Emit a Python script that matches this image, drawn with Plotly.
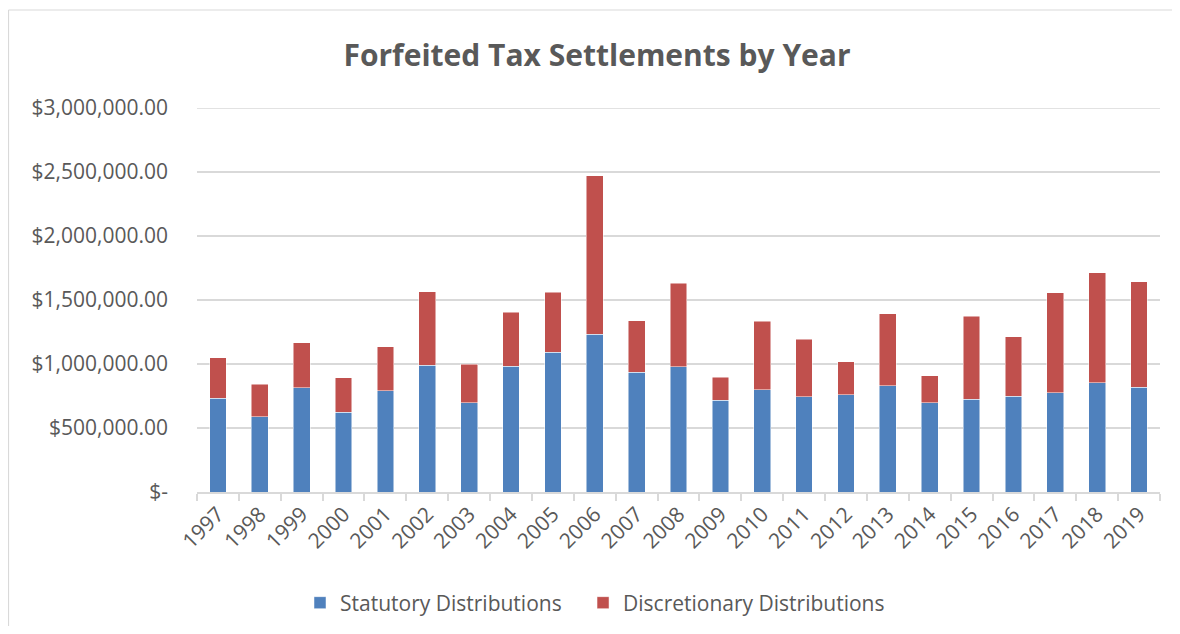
import plotly.graph_objects as go

years = [str(y) for y in range(1997, 2020)]
statutory = [734000, 589000, 816000, 625000, 792000, 990000, 698000, 984000, 1091000, 1232000,
             937000, 977000, 716000, 800000, 745000, 761000, 831000, 698000, 724000, 750000,
             777000, 855000, 818000]
totals = [1050000, 841000, 1167000, 894000, 1133000, 1566000, 1000000, 1404000, 1560000, 2469000,
          1339000, 1630000, 896000, 1333000, 1195000, 1016000, 1391000, 909000, 1372000, 1214000,
          1558000, 1714000, 1641000]
discretionary = [t - s for t, s in zip(totals, statutory)]

series_names = ["Statutory Distributions", "Discretionary Distributions"]

y_ticks = [0, 500000, 1000000, 1500000, 2000000, 2500000, 3000000]
y_labels = ["$-", "$500,000.00", "$1,000,000.00", "$1,500,000.00", "$2,000,000.00",
            "$2,500,000.00", "$3,000,000.00"]

FONT = "Open Sans"
GRAY = "#595959"
GRID = "#D9D9D9"

W, H = 1164, 618
L, T, R, B = 189, 100, 12, 134
PW, PH = W - L - R, H - T - B

fig = go.Figure()
fig.add_trace(go.Bar(x=years, y=statutory, name=series_names[0] + "\u00a0\u00a0\u00a0",
                     marker=dict(color="#4F81BD", line=dict(color="rgba(255,255,255,0.7)", width=0.7))))
fig.add_trace(go.Bar(x=years, y=discretionary, name=series_names[1],
                     marker=dict(color="#C0504D", line=dict(color="rgba(255,255,255,0.7)", width=0.7))))

fig.update_layout(
    barmode="stack",
    bargap=0.6,
    width=W, height=H,
    margin=dict(l=L, r=R, t=T, b=B, autoexpand=False),
    paper_bgcolor="white", plot_bgcolor="white",
    font=dict(family=FONT, color=GRAY, size=21),
    title=dict(text="<b>Forfeited Tax Settlements by Year</b>", x=589 / W, xref="container",
               xanchor="center", y=1 - 47 / H, yref="container", yanchor="middle",
               font=dict(family=FONT, size=30, color=GRAY)),
    legend=dict(orientation="h", x=(292 - L) / PW, xanchor="left", y=-111 / PH, yanchor="middle",
                font=dict(size=21, color=GRAY), itemwidth=30, traceorder="normal"),
    xaxis=dict(type="category", tickangle=-45, showline=True, linecolor=GRID, linewidth=1.5,
               ticks="outside", ticklen=7, tickcolor=GRID, tickwidth=1.5, tickson="boundaries",
               tickfont=dict(size=21, color=GRAY), showgrid=False, automargin=False),
    yaxis=dict(range=[0, 3000000], tickvals=y_ticks, ticktext=y_labels, showgrid=True,
               gridcolor=GRID, gridwidth=1.6, zeroline=False, showline=False, automargin=False,
               tickfont=dict(size=21, color=GRAY), ticklabelstandoff=28),
    shapes=[
        # chart border: top and left edges only
        dict(type="line", xref="paper", yref="paper",
             x0=(0.5 - L) / PW, x1=(W + 40 - L) / PW,
             y0=(T + PH - 2) / PH, y1=(T + PH - 2) / PH,
             line=dict(color=GRID, width=1.2), layer="below"),
        dict(type="line", xref="paper", yref="paper",
             x0=(0.5 - L) / PW, x1=(0.5 - L) / PW,
             y0=-(H + 40 - (T + PH)) / PH, y1=(T + PH - 2) / PH,
             line=dict(color=GRID, width=1.2), layer="below"),
        dict(type="line", xref="paper", yref="y", x0=0, x1=1, y0=3000000, y1=3000000,
             line=dict(color=GRID, width=1.6), layer="below"),
    ],
)

fig.write_html("out.html")
